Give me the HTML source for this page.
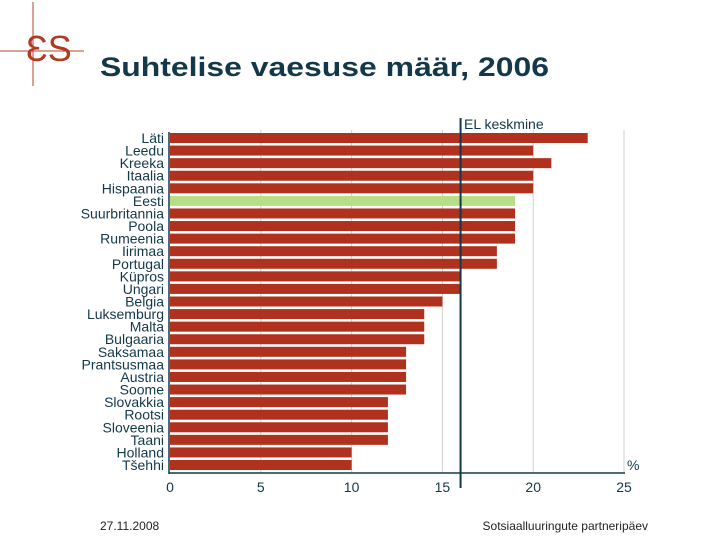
<!DOCTYPE html>
<html><head><meta charset="utf-8"><style>
body{margin:0;width:720px;height:540px;background:#fff;overflow:hidden;font-family:"Liberation Sans",sans-serif}
</style></head><body>
<svg width="720" height="540" xmlns="http://www.w3.org/2000/svg">
<g stroke="#b5452f" fill="none">
<line x1="33" y1="2" x2="33" y2="86" stroke-width="1"/>
<line x1="0" y1="51" x2="84" y2="51" stroke-width="1"/>
<text x="26" y="61" font-size="36" fill="#b03a22" stroke="none" font-family="Liberation Sans">ƐS</text>
</g>
<text x="100" y="76" font-size="27" font-weight="bold" fill="#12384a" textLength="449" lengthAdjust="spacingAndGlyphs">Suhtelise vaesuse määr, 2006</text>
<g id="chart"></g>
<text x="100" y="530" font-size="12" fill="#222">27.11.2008</text>
<text x="648" y="530" font-size="12" fill="#222" text-anchor="end">Sotsiaalluuringute partneripäev</text>
</svg>
<script>
const categories=["Läti","Leedu","Kreeka","Itaalia","Hispaania","Eesti","Suurbritannia","Poola","Rumeenia","Iirimaa","Portugal","Küpros","Ungari","Belgia","Luksemburg","Malta","Bulgaaria","Saksamaa","Prantsusmaa","Austria","Soome","Slovakkia","Rootsi","Sloveenia","Taani","Holland","Tšehhi"];
const values=[23,20,21,20,20,19,19,19,19,18,18,16,16,15,14,14,14,13,13,13,13,12,12,12,12,10,10];
const ticks=[0,5,10,15,20,25];
const euAverage=16;
const NS="http://www.w3.org/2000/svg";
const g=document.getElementById('chart');
const x=v=>170+v*(624-170)/25;
const y=i=>138+i*(465-138)/26;
function mk(t,a){const e=document.createElementNS(NS,t);for(const k in a)e.setAttribute(k,a[k]);g.appendChild(e);return e;}
ticks.forEach(t=>{
 if(t>0){const l=mk('line',{x1:x(t),x2:x(t),y1:130,y2:473,stroke:'#d0d0d0','stroke-width':1});
 
 }
 const tx=mk('text',{x:x(t),y:492,'font-size':14,'text-anchor':'middle',fill:'#12384a'});tx.textContent=t;
 
 
});
categories.forEach((c,i)=>{
 const r=mk('rect',{x:x(0),y:y(i)-5,width:x(values[i])-x(0),height:10,fill:c==="Eesti"?'#b9dc86':'#b0311e'});
 
 
 const t=mk('text',{x:164,y:y(i)+5,'font-size':14,'text-anchor':'end',fill:'#12384a'});t.textContent=c;
 
 
});
const ya=mk('line',{x1:169,x2:169,y1:132,y2:474,stroke:'#12384a','stroke-width':1.5});


const xa=mk('line',{x1:169,x2:625,y1:473,y2:473,stroke:'#12384a','stroke-width':1.5});


const el=mk('line',{x1:x(euAverage),x2:x(euAverage),y1:118,y2:488,stroke:'#12384a','stroke-width':2});


const elt=mk('text',{x:464,y:129,'font-size':14,fill:'#12384a'});elt.textContent='EL keskmine';


const pc=mk('text',{x:627,y:470,'font-size':14,fill:'#12384a'});pc.textContent='%';


</script>
</body></html>
